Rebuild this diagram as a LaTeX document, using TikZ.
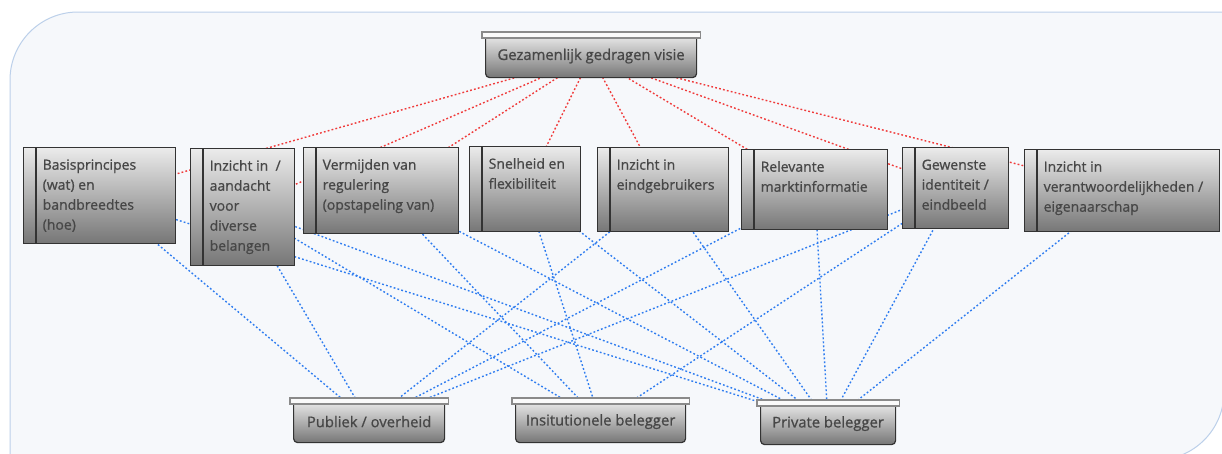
\documentclass[tikz,border=0pt]{standalone}
\usepackage{fontspec}
\setmainfont{Open Sans}[BoldFont={Open Sans}, BoldFeatures={FakeBold=0.9}]
\usetikzlibrary{calc}

\definecolor{bgfill}{HTML}{F6F8FB}
\definecolor{bgline}{HTML}{BCD0EA}
\definecolor{redcon}{HTML}{F03A3A}
\definecolor{bluecon}{HTML}{2E7CF0}
\definecolor{boxtop}{HTML}{EBEBEB}
\definecolor{boxbot}{HTML}{767676}
\definecolor{boxline}{HTML}{333333}
\definecolor{lidfill}{HTML}{FAFAFA}
\definecolor{lidline}{HTML}{8A8A8A}
\definecolor{txt}{HTML}{474747}

\pgfdeclarelayer{bg}
\pgfdeclarelayer{edges}
\pgfsetlayers{bg,edges,main}

% text block of a middle box: left offset past the strip, top aligned
\newcommand{\midlabel}[3]{\hspace*{19pt}\vbox to #2pt{\hsize=\dimexpr#1pt-19pt\relax
  \parindent=0pt \raggedright \baselineskip=20pt
  \vskip 8pt\leavevmode\vrule height 14pt width 0pt #3\par\vss}}

\tikzset{
  midbox/.style={draw=boxline, line width=1.4pt, top color=boxtop, bottom color=boxbot,
    inner sep=0pt, anchor=north west, text=txt, font=\fontsize{14}{20}\selectfont\bfseries},
  capbox/.style={draw=boxline, line width=1.2pt, rounded corners=4pt, top color=boxtop,
    bottom color=boxbot, inner sep=0pt, anchor=north west, text=txt,
    font=\fontsize{14.8}{17}\selectfont\bfseries},
  lidbox/.style={draw=lidline, fill=lidfill, line width=1.2pt},
  stripline/.style={draw=boxline, line width=1.4pt},
  redlink/.style={draw=redcon, line width=1.4pt, dash pattern=on 1.8pt off 2.2pt},
  bluelink/.style={draw=bluecon, line width=1.4pt, dash pattern=on 1.8pt off 2.2pt},
}

\begin{document}
\begin{tikzpicture}[x=1pt,y=-1pt]
\useasboundingbox (0,0) rectangle (1222,453);

% canvas
\begin{pgfonlayer}{bg}
  \fill[white] (0,0) rectangle (1222,453);
  \draw[fill=bgfill, draw=bgline, line width=1pt]
    (10,470) -- (10,80) arc[start angle=180, end angle=90, radius=68pt]
    -- (1224,12) -- (1224,392) arc[start angle=0, end angle=-90, radius=68pt]
    -- (10,460) -- cycle;
\end{pgfonlayer}

% top node
\node[capbox, minimum width=211pt, minimum height=43pt] (top) at (485,34)
  {Gezamenlijk gedragen visie};

% middle row
\node[midbox] (b1) at (23,147)   {\midlabel{152}{96}{Basisprincipes\\(wat) en\\bandbreedtes\\(hoe)}};
\node[midbox] (b2) at (190,148)  {\midlabel{104}{117}{Inzicht in\ \ /\\aandacht\\voor\\diverse\\belangen}};
\node[midbox] (b3) at (303,147)  {\midlabel{155}{86}{Vermijden van\\regulering\\(opstapeling van)}};
\node[midbox] (b4) at (469,146)  {\midlabel{111}{85}{Snelheid en\\flexibiliteit}};
\node[midbox] (b5) at (597,147)  {\midlabel{131}{84}{Inzicht in\\eindgebruikers}};
\node[midbox] (b6) at (741,149)  {\midlabel{146}{80}{Relevante\\marktinformatie}};
\node[midbox] (b7) at (902,147)  {\midlabel{106}{81}{Gewenste\\identiteit /\\eindbeeld}};
\node[midbox] (b8) at (1024,149) {\midlabel{195}{82}{Inzicht in\\verantwoordelijkheden /\\eigenaarschap}};

\foreach \n in {b1,b2,b3,b4,b5,b6,b7,b8}
  \draw[stripline] ($(\n.north west)+(13,0)$) -- ($(\n.south west)+(13,0)$);

% bottom row
\node[capbox, minimum width=151pt, minimum height=42pt] (pub) at (293,400) {Publiek / overheid};
\node[capbox, minimum width=170pt, minimum height=42pt] (ins) at (515,400) {Insitutionele belegger};
\node[capbox, minimum width=135pt, minimum height=42pt] (pri) at (760,402) {Private belegger};

% lids on the capped nodes
\foreach \n in {top,pub,ins,pri}
  \draw[lidbox] ($(\n.north west)+(-3,-2)$) rectangle ($(\n.north east)+(3,4)$);

% connectors, drawn centre to centre beneath the boxes
\begin{pgfonlayer}{edges}
  \foreach \n in {b1,b2,b3,b4,b5,b6,b7,b8}
    \draw[redlink] (top.center) -- (\n.center);
  \foreach \n in {b1,b2,b5,b6,b7}
    \draw[bluelink] (\n.center) -- (pub.center);
  \foreach \n in {b2,b3,b4,b7}
    \draw[bluelink] (\n.center) -- (ins.center);
  \foreach \n in {b1,b2,b3,b4,b5,b6,b7,b8}
    \draw[bluelink] (\n.center) -- (pri.center);
\end{pgfonlayer}
\end{tikzpicture}
\end{document}
